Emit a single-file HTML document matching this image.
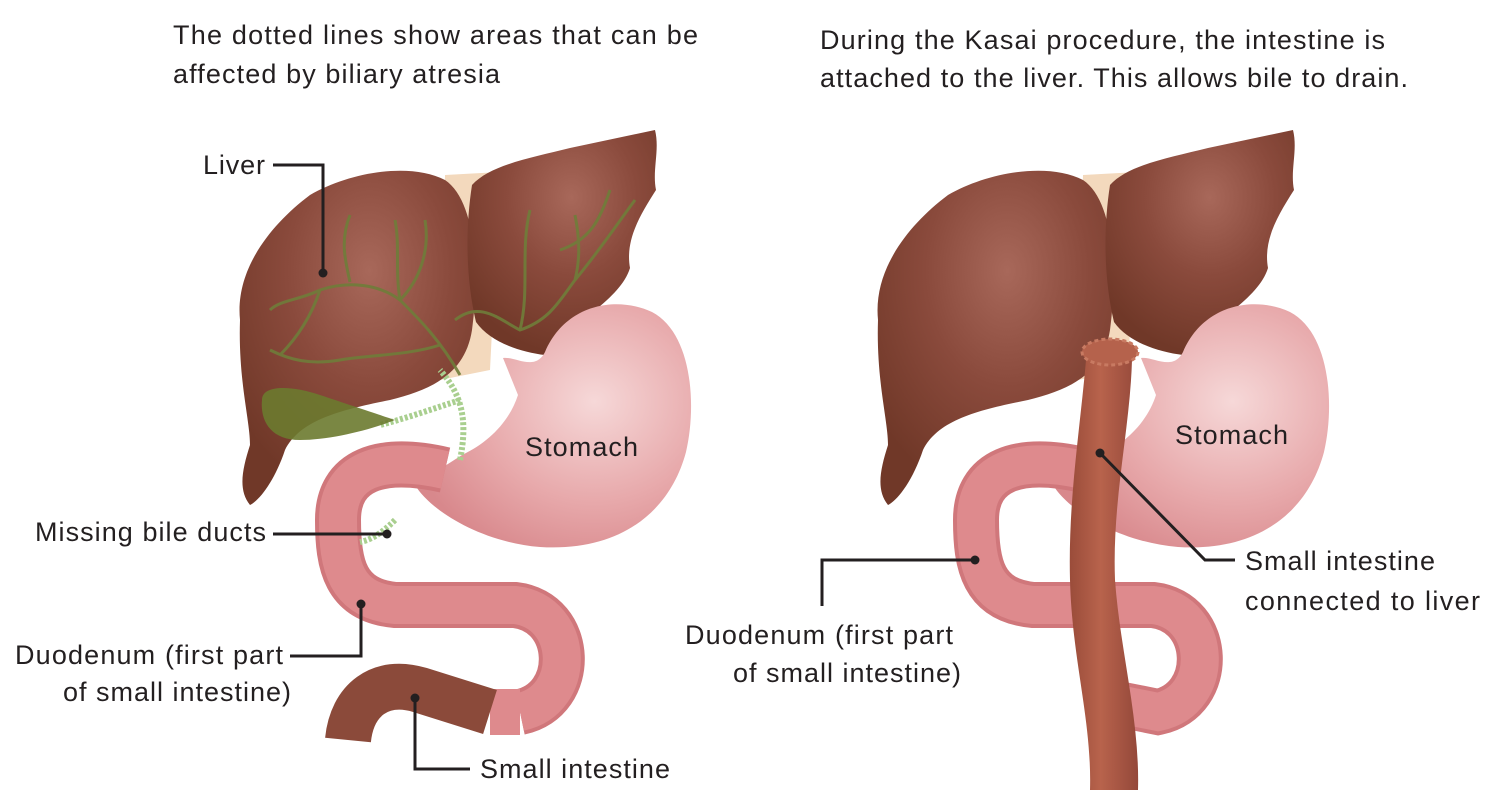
<!DOCTYPE html>
<html><head><meta charset="utf-8"><style>
html,body{margin:0;padding:0;background:#fff;width:1495px;height:805px;overflow:hidden}
svg text{font-family:"Liberation Sans",sans-serif;font-size:27px;fill:#231f20}
</style></head><body>
<svg width="1495" height="805" viewBox="0 0 1495 805" xmlns="http://www.w3.org/2000/svg">
<defs>
<radialGradient id="lv" cx="0.55" cy="0.3" r="0.7"><stop offset="0" stop-color="#a8685a"/><stop offset="0.5" stop-color="#8a4a3c"/><stop offset="1" stop-color="#703828"/></radialGradient>
<radialGradient id="st" cx="0.65" cy="0.4" r="0.7"><stop offset="0" stop-color="#f6d8d8"/><stop offset="0.6" stop-color="#e7a8aa"/><stop offset="1" stop-color="#d8888c"/></radialGradient>
<linearGradient id="si" x1="0" x2="1"><stop offset="0" stop-color="#9a4c3a"/><stop offset="0.45" stop-color="#b8634c"/><stop offset="1" stop-color="#94483a"/></linearGradient>
<g id="liver">
<path d="M445 175 L500 172 L490 370 L440 380 Z" fill="#f3d9bd"/>
<path d="M240 320 C235 270 270 225 310 195 C350 172 410 162 445 180 C475 200 480 270 472 330 C465 375 430 390 390 400 C340 410 300 420 285 450 C275 480 260 500 250 505 C238 490 242 470 250 445 C250 420 238 380 240 320 Z" fill="url(#lv)"/>
<path d="M472 185 C490 165 530 158 570 148 L655 130 C660 150 652 170 656 190 C640 215 625 240 630 268 C620 300 575 320 545 355 C520 352 490 342 476 322 C466 280 465 230 472 185 Z" fill="url(#lv)"/>
</g>
<g id="stomach">
<path d="M503 358 C515 356 535 372 545 352 C565 305 615 295 652 312 C692 333 697 405 686 452 C670 512 620 552 540 547 C480 542 430 510 415 485 L462 455 C490 442 510 420 518 395 Z" fill="url(#st)"/>
</g>
</defs>

<text x="173" y="44" textLength="525">The dotted lines show areas that can be</text>
<text x="173" y="83" textLength="327">affected by biliary atresia</text>
<text x="820" y="49" textLength="565">During the Kasai procedure, the intestine is</text>
<text x="820" y="87" textLength="588">attached to the liver. This allows bile to drain.</text>

<!-- LEFT -->
<use href="#liver"/>
<use href="#stomach"/>
<path d="M445 470 C380 455 338 470 338 520 C338 565 345 600 395 605 L515 605 C575 612 578 700 520 712" fill="none" stroke="#d0777b" stroke-width="46"/>
<path d="M445 470 C380 455 338 470 338 520 C338 565 345 600 395 605 L515 605 C575 612 578 700 520 712" fill="none" stroke="#de8a8d" stroke-width="38"/>
<path d="M520 712 L490 712" fill="none" stroke="#de8a8d" stroke-width="46"/>
<path d="M490 712 L420 690 C380 678 352 700 348 740" fill="none" stroke="#8b4a3a" stroke-width="46"/>
<path d="M460 460 C468 420 462 395 440 370 M460 400 C430 410 400 420 380 425 M395 520 C380 535 370 540 360 542" fill="none" stroke="#a9cf8f" stroke-width="6" stroke-dasharray="3 2"/>
<path d="M262 400 C262 385 290 385 320 395 C350 405 380 415 395 420 C370 430 330 440 300 440 C270 440 260 420 262 400 Z" fill="#6b7a2f" opacity="0.9"/>
<g fill="none" stroke="#6f7d3a" stroke-width="3" opacity="0.9">
<path d="M460 375 C440 340 420 320 400 300 C380 285 350 280 320 290 C300 300 280 300 270 310"/>
<path d="M400 300 C395 270 400 245 395 220 M400 300 C420 280 430 250 425 220 M350 282 C345 260 340 240 350 215 M320 290 C310 320 295 340 280 355"/>
<path d="M440 345 C410 355 370 355 340 360 C310 365 290 360 270 350"/>
<path d="M455 320 C480 300 500 320 520 330 C550 320 560 300 575 280 C580 260 580 240 575 215 M520 330 C530 290 520 250 530 210 M575 280 C600 250 620 220 635 200 M560 250 C590 240 600 220 610 190"/>
</g>
<path d="M273 165 H323 V273" fill="none" stroke="#231f20" stroke-width="3"/><circle cx="323" cy="273" r="4.5" fill="#231f20"/>
<path d="M273 534 H387" stroke="#231f20" stroke-width="3"/><circle cx="387" cy="534" r="4.5" fill="#231f20"/>
<path d="M290 656 H361 V604" fill="none" stroke="#231f20" stroke-width="3"/><circle cx="361" cy="604" r="4.5" fill="#231f20"/>
<path d="M470 769 H415 V698" fill="none" stroke="#231f20" stroke-width="3"/><circle cx="415" cy="698" r="4.5" fill="#231f20"/>
<text x="203" y="174" textLength="62">Liver</text>
<text x="35" y="541" textLength="231">Missing bile ducts</text>
<text x="15" y="664" textLength="268">Duodenum (first part</text>
<text x="63" y="701" textLength="228">of small intestine)</text>
<text x="480" y="778" textLength="190">Small intestine</text>
<text x="525" y="456" textLength="113">Stomach</text>

<!-- RIGHT -->
<g transform="translate(638,0)"><use href="#liver"/><use href="#stomach"/>
<path d="M445 470 C380 455 338 470 338 520 C338 565 345 600 395 605 L515 605 C575 612 578 700 520 712 L485 705" fill="none" stroke="#d0777b" stroke-width="46"/>
<path d="M445 470 C380 455 338 470 338 520 C338 565 345 600 395 605 L515 605 C575 612 578 700 520 712 L485 705" fill="none" stroke="#de8a8d" stroke-width="38"/>
</g>
<path d="M1086 360 C1080 430 1068 500 1070 580 C1072 660 1092 720 1090 790 L1138 790 C1140 720 1120 650 1115 580 C1112 500 1130 430 1132 360 Z" fill="url(#si)"/>
<ellipse cx="1110" cy="352" rx="28" ry="13" fill="#b5624c" stroke="#c87a62" stroke-width="3" stroke-dasharray="4 3"/>
<path d="M1100 453 L1205 560 H1235" fill="none" stroke="#231f20" stroke-width="3"/><circle cx="1100" cy="453" r="4.5" fill="#231f20"/>
<path d="M822 606 V560 H975" fill="none" stroke="#231f20" stroke-width="3"/><circle cx="975" cy="560" r="4.5" fill="#231f20"/>
<text x="1175" y="444" textLength="113">Stomach</text>
<text x="1245" y="570" textLength="190">Small intestine</text>
<text x="1245" y="610" textLength="235">connected to liver</text>
<text x="685" y="644" textLength="268">Duodenum (first part</text>
<text x="733" y="682" textLength="228">of small intestine)</text>
</svg>
</body></html>
